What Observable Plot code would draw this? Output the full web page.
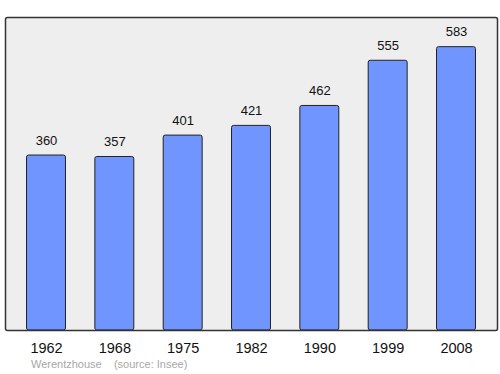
<!DOCTYPE html>
<html>
<head>
<meta charset="utf-8">
<script src="https://cdn.jsdelivr.net/npm/d3@7"></script>
<script src="https://cdn.jsdelivr.net/npm/@observablehq/plot@0.6"></script>
<style>
  body { margin: 0; background: #fff; font-family: "Liberation Sans", Arial, sans-serif; }
  #wrap { position: relative; width: 500px; height: 374px; }
  #caption { position: absolute; left: 31px; top: 358px; font-size: 11px; color: #a8a8a8; white-space: pre; }
</style>
</head>
<body>
<div id="wrap"><div id="chart"></div><div id="caption">Werentzhouse    (source: Insee)</div></div>
<script>
const years = ["1962", "1968", "1975", "1982", "1990", "1999", "2008"];
const population = [360, 357, 401, 421, 462, 555, 583];
const data = years.map((y, i) => ({year: y, pop: population[i]}));

const chart = Plot.plot({
  width: 500,
  height: 356,
  marginTop: 17,
  marginBottom: 26,
  marginLeft: 5,
  marginRight: 3,
  style: {fontFamily: '"Liberation Sans", Arial, sans-serif', background: "transparent"},
  x: {domain: years, paddingInner: 0.43, paddingOuter: 0.315, round: false, label: null},
  y: {domain: [0, 644], axis: null},
  marks: [
    Plot.frame({fill: "#eeeeee", stroke: "none"}),
    Plot.barY(data, {x: "year", y: "pop", fill: "#7095ff", stroke: "#222", strokeWidth: 1, rx: 2}),
    Plot.text(data, {x: "year", y: "pop", text: d => String(d.pop), dy: -15, fontSize: 13, fill: "#111"}),
    Plot.frame({stroke: "#333", strokeWidth: 1.5, rx: 2}),
    Plot.axisX({tickSize: 0, tickPadding: 12, fontSize: 14.5, color: "#111", label: null})
  ]
});
document.getElementById("chart").appendChild(chart);
</script>
</body>
</html>
